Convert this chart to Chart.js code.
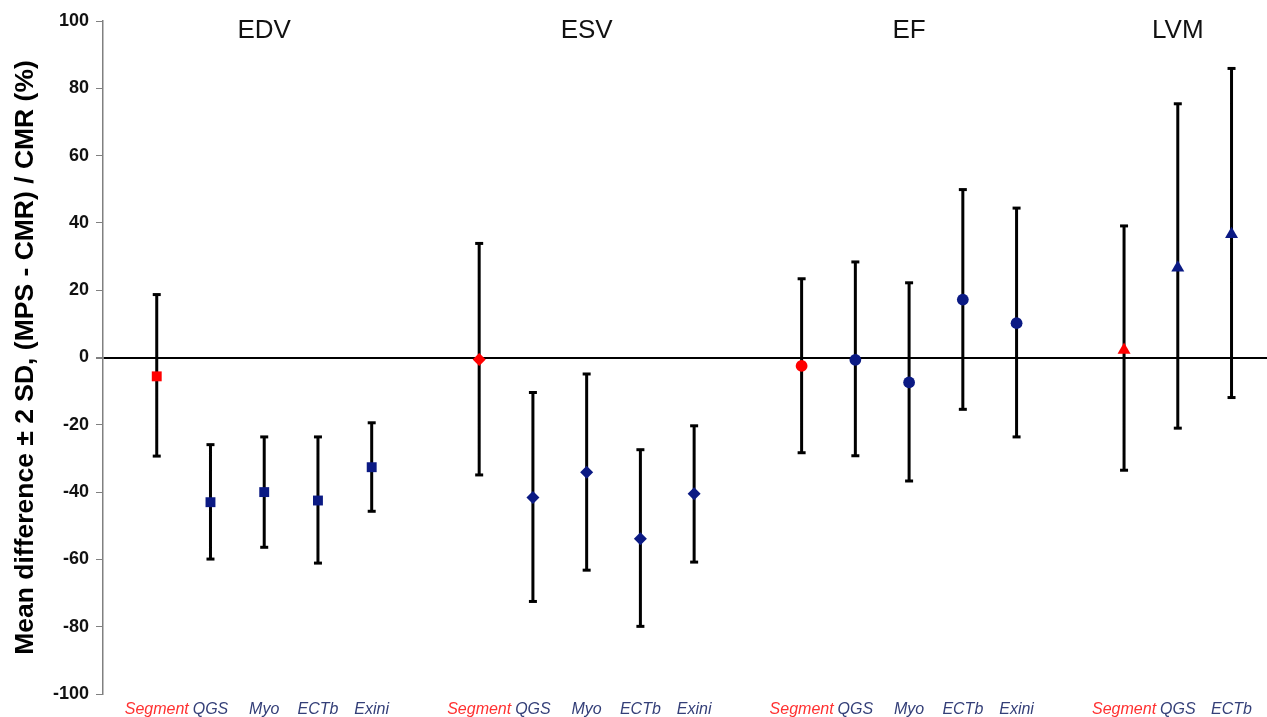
<!DOCTYPE html>
<html>
<head>
<meta charset="utf-8">
<script src="https://cdn.jsdelivr.net/npm/chart.js@4/dist/chart.umd.min.js"></script>
<style>
  html, body { margin: 0; padding: 0; background: #ffffff; }
  #wrap { width: 1267px; height: 717px; position: relative; }
</style>
</head>
<body>
<div id="wrap"><canvas id="c" width="1267" height="717"></canvas></div>
<script>
// Measures and software packages compared against CMR
const groups = ['EDV', 'ESV', 'EF', 'LVM'];
const edvMethods = ['Segment', 'QGS', 'Myo', 'ECTb', 'Exini'];
const esvMethods = ['Segment', 'QGS', 'Myo', 'ECTb', 'Exini'];
const efMethods  = ['Segment', 'QGS', 'Myo', 'ECTb', 'Exini'];
const lvmMethods = ['Segment', 'QGS', 'ECTb'];

// Mean difference (%) and the ±2 SD limits for each measure
const edvMean  = [-5.6, -43.0, -40.0, -42.5, -32.6];
const edvUpper = [18.7, -25.9, -23.6, -23.6, -19.4];
const edvLower = [-29.3, -59.9, -56.4, -61.1, -45.7];

const esvMean  = [-0.6, -41.6, -34.1, -53.9, -40.5];
const esvUpper = [33.9, -10.4, -4.9, -27.4, -20.3];
const esvLower = [-34.9, -72.5, -63.2, -79.9, -60.8];

const efMean  = [-2.5, -0.7, -7.4, 17.2, 10.2];
const efUpper = [23.4, 28.4, 22.2, 49.9, 44.4];
const efLower = [-28.3, -29.2, -36.7, -15.4, -23.6];

const lvmMean  = [2.2, 26.7, 36.6];
const lvmUpper = [39.1, 75.4, 85.9];
const lvmLower = [-33.5, -21.0, -11.9];

const yTicks = [-100, -80, -60, -40, -20, 0, 20, 40, 60, 80, 100];

// Marker shape used for each measure
const groupShapes = ['rect', 'rectRot', 'circle', 'triangle'];
const groupRadius = [7, 6.5, 5.9, 7.5];

const RED = '#ff0000';
const NAVY = '#0b1a84';
const LABEL_RED = '#ff3030';
const LABEL_NAVY = '#343f78';
const FONT = "'Liberation Sans', Arial, sans-serif";

const series = [
  { methods: edvMethods, mean: edvMean, upper: edvUpper, lower: edvLower },
  { methods: esvMethods, mean: esvMean, upper: esvUpper, lower: esvLower },
  { methods: efMethods,  mean: efMean,  upper: efUpper,  lower: efLower },
  { methods: lvmMethods, mean: lvmMean, upper: lvmUpper, lower: lvmLower }
];

// Each measure occupies a block of slots on the x axis, separated by one empty slot
const slotLabels = {};
const slotIsSegment = {};
const stemPoints = [];
const capPoints = [];
const segmentPoints = [];
const otherPoints = [];
const titleSlots = [];

series.forEach((s, g) => {
  const base = g * 6 + 1;
  s.methods.forEach((m, i) => {
    const x = base + i;
    slotLabels[x] = m;
    slotIsSegment[x] = (m === 'Segment');
    stemPoints.push({ x: x, y: s.lower[i] }, { x: x, y: s.upper[i] }, { x: x, y: null });
    capPoints.push({ x: x, y: s.lower[i] }, { x: x, y: s.upper[i] });
    const pt = { x: x, y: s.mean[i], shape: groupShapes[g], r: groupRadius[g] };
    if (m === 'Segment') segmentPoints.push(pt); else otherPoints.push(pt);
  });
  titleSlots.push(base + (s.methods.length - 1) / 2);
});
const tickSlots = Object.keys(slotLabels).map(Number);

// Measure names above each block
const groupTitles = {
  id: 'groupTitles',
  afterDatasetsDraw(chart) {
    const ctx = chart.ctx;
    const xs = chart.scales.x;
    ctx.save();
    ctx.font = '26px ' + FONT;
    ctx.fillStyle = '#111111';
    ctx.textAlign = 'center';
    ctx.textBaseline = 'middle';
    groups.forEach((name, g) => {
      ctx.fillText(name, xs.getPixelForValue(titleSlots[g]), 31);
    });
    ctx.restore();
  }
};

new Chart(document.getElementById('c'), {
  type: 'scatter',
  data: {
    datasets: [
      {
        type: 'line',
        data: stemPoints,
        borderColor: '#000000',
        borderWidth: 3,
        pointRadius: 0,
        spanGaps: false,
        fill: false,
        order: 3
      },
      {
        data: capPoints,
        pointStyle: 'line',
        pointRadius: 4,
        borderColor: '#000000',
        pointBorderWidth: 3,
        order: 2
      },
      {
        data: segmentPoints,
        pointStyle: (c) => c.raw ? c.raw.shape : 'circle',
        pointRadius: (c) => c.raw ? c.raw.r : 5,
        backgroundColor: RED,
        borderColor: RED,
        borderWidth: 0,
        order: 1
      },
      {
        data: otherPoints,
        pointStyle: (c) => c.raw ? c.raw.shape : 'circle',
        pointRadius: (c) => c.raw ? c.raw.r : 5,
        backgroundColor: NAVY,
        borderColor: NAVY,
        borderWidth: 0,
        order: 0
      }
    ]
  },
  options: {
    responsive: false,
    animation: false,
    layout: { autoPadding: false, padding: { top: 21, right: 0, bottom: 0, left: 0 } },
    plugins: {
      legend: { display: false },
      tooltip: { enabled: false }
    },
    scales: {
      x: {
        type: 'linear',
        min: 0,
        max: 21.66,
        offset: false,
        grid: { display: false, drawTicks: false },
        border: { display: false },
        afterBuildTicks: (scale) => { scale.ticks = tickSlots.map(v => ({ value: v })); },
        afterFit: (scale) => {
          scale.height = 23;
          scale.paddingLeft = 0;
          scale.paddingRight = 0;
        },
        ticks: {
          autoSkip: false,
          maxRotation: 0,
          padding: 6,
          font: { family: FONT, size: 16, style: 'italic' },
          color: (c) => (c.tick && slotIsSegment[c.tick.value]) ? LABEL_RED : LABEL_NAVY,
          callback: (v) => slotLabels[v] || ''
        }
      },
      y: {
        min: -100,
        max: 100,
        afterBuildTicks: (scale) => { scale.ticks = yTicks.map(v => ({ value: v })); },
        afterFit: (scale) => { scale.width = 103; },
        grid: {
          display: true,
          drawOnChartArea: true,
          drawTicks: true,
          tickLength: 7,
          tickColor: '#808080',
          lineWidth: (c) => (c.tick && c.tick.value === 0) ? 2 : 1,
          color: (c) => (c.tick && c.tick.value === 0) ? '#000000' : 'rgba(0,0,0,0)'
        },
        border: { display: true, color: '#808080', width: 1.5 },
        ticks: {
          padding: 7,
          color: '#111111',
          font: { family: FONT, size: 18, weight: 'bold' }
        },
        title: {
          display: true,
          text: 'Mean difference ± 2 SD, (MPS - CMR) / CMR (%)',
          color: '#000000',
          font: { family: FONT, size: 26.5, weight: 'bold' },
          padding: { top: 10, bottom: 0 }
        }
      }
    }
  },
  plugins: [groupTitles]
});
</script>
</body>
</html>
